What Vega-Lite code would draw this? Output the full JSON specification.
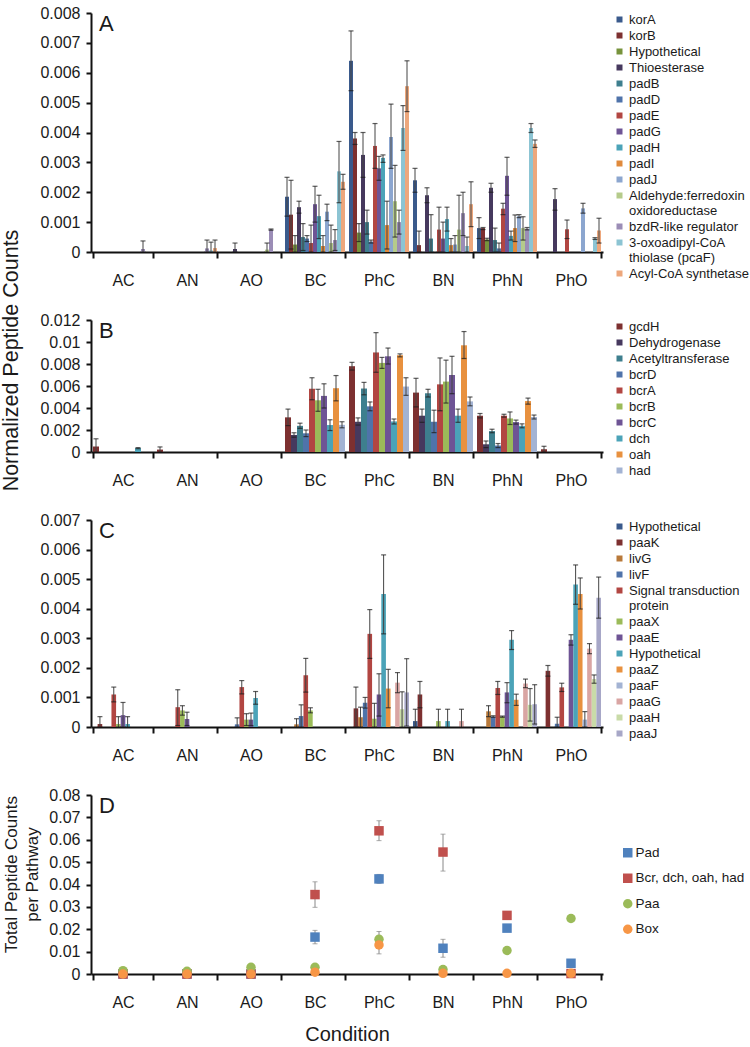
{
"$schema": "https://vega.github.io/schema/vega-lite/v6.json",
"padding": {"left": 0, "top": 5, "right": 2, "bottom": 2},
"autosize": {"type": "pad"},
"bounds": "flush",
"spacing": 68,
"datasets": {
"a": [
{"c":"AC","g":"bzdR-like regulator","v":0.0001,"lo":0,"hi":0.00037},
{"c":"AN","g":"bzdR-like regulator","v":0.00012,"lo":0,"hi":0.0004},
{"c":"AN","g":"3-oxoadipyl-CoA|thiolase (pcaF)","v":0.00005,"lo":0,"hi":0.00033},
{"c":"AN","g":"Acyl-CoA synthetase","v":0.00013,"lo":0,"hi":0.0004},
{"c":"AO","g":"Thioesterase","v":0.0001,"lo":0,"hi":0.0003},
{"c":"AO","g":"Aldehyde:ferredoxin| oxidoreductase","v":0.00008,"lo":0,"hi":0.0003},
{"c":"AO","g":"bzdR-like regulator","v":0.00075,"lo":0.00073,"hi":0.00077},
{"c":"BC","g":"korA","v":0.00185,"lo":0.0012,"hi":0.0025},
{"c":"BC","g":"korB","v":0.00125,"lo":0.0001,"hi":0.0024},
{"c":"BC","g":"Hypothetical","v":0.00025,"lo":0,"hi":0.00055},
{"c":"BC","g":"Thioesterase","v":0.0015,"lo":0.0013,"hi":0.0017},
{"c":"BC","g":"padB","v":0.0005,"lo":0.00005,"hi":0.00095},
{"c":"BC","g":"padD","v":0.00045,"lo":0.00035,"hi":0.00055},
{"c":"BC","g":"padE","v":0.0003,"lo":0,"hi":0.0009},
{"c":"BC","g":"padG","v":0.0016,"lo":0.001,"hi":0.0022},
{"c":"BC","g":"padH","v":0.0012,"lo":0.00045,"hi":0.0019},
{"c":"BC","g":"padI","v":0.0002,"lo":0,"hi":0.00055},
{"c":"BC","g":"padJ","v":0.00135,"lo":0.00105,"hi":0.0016},
{"c":"BC","g":"Aldehyde:ferredoxin| oxidoreductase","v":0.0003,"lo":0,"hi":0.0009},
{"c":"BC","g":"bzdR-like regulator","v":0.0004,"lo":0.00005,"hi":0.00075},
{"c":"BC","g":"3-oxoadipyl-CoA|thiolase (pcaF)","v":0.0027,"lo":0.00165,"hi":0.0037},
{"c":"BC","g":"Acyl-CoA synthetase","v":0.00235,"lo":0.0021,"hi":0.0026},
{"c":"PhC","g":"korA","v":0.0064,"lo":0.0054,"hi":0.0074},
{"c":"PhC","g":"korB","v":0.0038,"lo":0.0036,"hi":0.004},
{"c":"PhC","g":"Hypothetical","v":0.00065,"lo":0.00035,"hi":0.00095},
{"c":"PhC","g":"Thioesterase","v":0.00325,"lo":0.0025,"hi":0.004},
{"c":"PhC","g":"padB","v":0.001,"lo":0.0006,"hi":0.0014},
{"c":"PhC","g":"padD","v":0.00035,"lo":0.0003,"hi":0.0004},
{"c":"PhC","g":"padE","v":0.00355,"lo":0.0028,"hi":0.0043},
{"c":"PhC","g":"padG","v":0.0028,"lo":0.0024,"hi":0.0032},
{"c":"PhC","g":"padH","v":0.00315,"lo":0.003,"hi":0.00325},
{"c":"PhC","g":"padI","v":0.0009,"lo":0.0001,"hi":0.0017},
{"c":"PhC","g":"padJ","v":0.00385,"lo":0.0028,"hi":0.00495},
{"c":"PhC","g":"Aldehyde:ferredoxin| oxidoreductase","v":0.0017,"lo":0.0005,"hi":0.0029},
{"c":"PhC","g":"bzdR-like regulator","v":0.001,"lo":0.0006,"hi":0.0014},
{"c":"PhC","g":"3-oxoadipyl-CoA|thiolase (pcaF)","v":0.00415,"lo":0.0034,"hi":0.0049},
{"c":"PhC","g":"Acyl-CoA synthetase","v":0.00555,"lo":0.0047,"hi":0.0064},
{"c":"BN","g":"korA","v":0.0024,"lo":0.002,"hi":0.0028},
{"c":"BN","g":"korB","v":0.00023,"lo":0,"hi":0.0007},
{"c":"BN","g":"Thioesterase","v":0.0019,"lo":0.00165,"hi":0.00215},
{"c":"BN","g":"padB","v":0.00045,"lo":0,"hi":0.00125},
{"c":"BN","g":"padE","v":0.00075,"lo":0,"hi":0.0015},
{"c":"BN","g":"padG","v":0.00045,"lo":0,"hi":0.001},
{"c":"BN","g":"padH","v":0.0011,"lo":0.0007,"hi":0.0015},
{"c":"BN","g":"padI","v":0.00023,"lo":0,"hi":0.00045},
{"c":"BN","g":"padJ","v":0.00025,"lo":0,"hi":0.00055},
{"c":"BN","g":"Aldehyde:ferredoxin| oxidoreductase","v":0.00075,"lo":0,"hi":0.0019},
{"c":"BN","g":"bzdR-like regulator","v":0.0013,"lo":0.00055,"hi":0.002},
{"c":"BN","g":"3-oxoadipyl-CoA|thiolase (pcaF)","v":0.0002,"lo":0,"hi":0.0005},
{"c":"BN","g":"Acyl-CoA synthetase","v":0.0016,"lo":0.00085,"hi":0.00235},
{"c":"PhN","g":"korA","v":0.0008,"lo":0.00045,"hi":0.00115},
{"c":"PhN","g":"korB","v":0.0008,"lo":0.00075,"hi":0.00082},
{"c":"PhN","g":"Hypothetical","v":0.00042,"lo":0.00038,"hi":0.00046},
{"c":"PhN","g":"Thioesterase","v":0.00215,"lo":0.002,"hi":0.0023},
{"c":"PhN","g":"padB","v":0.0004,"lo":0,"hi":0.0008},
{"c":"PhN","g":"padD","v":0.00012,"lo":0,"hi":0.0003},
{"c":"PhN","g":"padE","v":0.00145,"lo":0.00125,"hi":0.00163},
{"c":"PhN","g":"padG","v":0.00255,"lo":0.0019,"hi":0.00317},
{"c":"PhN","g":"padH","v":0.00054,"lo":0.0004,"hi":0.0007},
{"c":"PhN","g":"padI","v":0.0008,"lo":0.00035,"hi":0.00124},
{"c":"PhN","g":"padJ","v":0.0012,"lo":0.00115,"hi":0.00125},
{"c":"PhN","g":"Aldehyde:ferredoxin| oxidoreductase","v":0.0008,"lo":0.0004,"hi":0.00118},
{"c":"PhN","g":"bzdR-like regulator","v":0.00078,"lo":0.00074,"hi":0.00082},
{"c":"PhN","g":"3-oxoadipyl-CoA|thiolase (pcaF)","v":0.00415,"lo":0.004,"hi":0.0043},
{"c":"PhN","g":"Acyl-CoA synthetase","v":0.00362,"lo":0.0035,"hi":0.00375},
{"c":"PhO","g":"Thioesterase","v":0.00177,"lo":0.0014,"hi":0.00212},
{"c":"PhO","g":"padE","v":0.00076,"lo":0.00045,"hi":0.00107},
{"c":"PhO","g":"padJ","v":0.00146,"lo":0.0013,"hi":0.00163},
{"c":"PhO","g":"3-oxoadipyl-CoA|thiolase (pcaF)","v":0.00045,"lo":0.00042,"hi":0.00048},
{"c":"PhO","g":"Acyl-CoA synthetase","v":0.00072,"lo":0.0003,"hi":0.00113}
],
"b": [
{"c":"AC","g":"gcdH","v":0.0005,"lo":0,"hi":0.0012},
{"c":"AC","g":"dch","v":0.00035,"lo":0.0003,"hi":0.0004},
{"c":"AN","g":"gcdH","v":0.00022,"lo":0,"hi":0.00046},
{"c":"BC","g":"gcdH","v":0.00315,"lo":0.0024,"hi":0.0039},
{"c":"BC","g":"Dehydrogenase","v":0.00155,"lo":0.00135,"hi":0.00175},
{"c":"BC","g":"Acetyltransferase","v":0.00238,"lo":0.00215,"hi":0.00262},
{"c":"BC","g":"bcrD","v":0.0017,"lo":0.0014,"hi":0.002},
{"c":"BC","g":"bcrA","v":0.00575,"lo":0.00475,"hi":0.00675},
{"c":"BC","g":"bcrB","v":0.0047,"lo":0.0037,"hi":0.0057},
{"c":"BC","g":"bcrC","v":0.0051,"lo":0.004,"hi":0.0062},
{"c":"BC","g":"dch","v":0.00245,"lo":0.00195,"hi":0.00293},
{"c":"BC","g":"oah","v":0.0058,"lo":0.00465,"hi":0.00695},
{"c":"BC","g":"had","v":0.00247,"lo":0.0022,"hi":0.00275},
{"c":"PhC","g":"gcdH","v":0.0078,"lo":0.00745,"hi":0.00815},
{"c":"PhC","g":"Dehydrogenase","v":0.00275,"lo":0.00245,"hi":0.0031},
{"c":"PhC","g":"Acetyltransferase","v":0.00577,"lo":0.0052,"hi":0.00633},
{"c":"PhC","g":"bcrD","v":0.00415,"lo":0.00375,"hi":0.00455},
{"c":"PhC","g":"bcrA","v":0.00905,"lo":0.00725,"hi":0.01085},
{"c":"PhC","g":"bcrB","v":0.0081,"lo":0.0076,"hi":0.0086},
{"c":"PhC","g":"bcrC","v":0.0087,"lo":0.008,"hi":0.00945},
{"c":"PhC","g":"dch","v":0.00278,"lo":0.00255,"hi":0.003},
{"c":"PhC","g":"oah","v":0.0088,"lo":0.00865,"hi":0.00892},
{"c":"PhC","g":"had","v":0.00595,"lo":0.00515,"hi":0.00675},
{"c":"BN","g":"gcdH","v":0.0054,"lo":0.0041,"hi":0.0067},
{"c":"BN","g":"Dehydrogenase","v":0.0033,"lo":0.0027,"hi":0.0039},
{"c":"BN","g":"Acetyltransferase","v":0.00534,"lo":0.005,"hi":0.0057},
{"c":"BN","g":"bcrD","v":0.00275,"lo":0.00176,"hi":0.0038},
{"c":"BN","g":"bcrA","v":0.00615,"lo":0.00375,"hi":0.00855},
{"c":"BN","g":"bcrB","v":0.0064,"lo":0.00445,"hi":0.00835},
{"c":"BN","g":"bcrC","v":0.007,"lo":0.0053,"hi":0.0087},
{"c":"BN","g":"dch","v":0.0033,"lo":0.0027,"hi":0.0039},
{"c":"BN","g":"oah","v":0.0097,"lo":0.0085,"hi":0.01095},
{"c":"BN","g":"had","v":0.0046,"lo":0.0042,"hi":0.005},
{"c":"PhN","g":"gcdH","v":0.0033,"lo":0.0031,"hi":0.0035},
{"c":"PhN","g":"Dehydrogenase","v":0.0007,"lo":0.0004,"hi":0.001},
{"c":"PhN","g":"Acetyltransferase","v":0.0019,"lo":0.00175,"hi":0.00207},
{"c":"PhN","g":"bcrD","v":0.00059,"lo":0.0004,"hi":0.00077},
{"c":"PhN","g":"bcrA","v":0.0033,"lo":0.00317,"hi":0.00343},
{"c":"PhN","g":"bcrB","v":0.00305,"lo":0.0025,"hi":0.00364},
{"c":"PhN","g":"bcrC","v":0.00272,"lo":0.00254,"hi":0.0029},
{"c":"PhN","g":"dch","v":0.00238,"lo":0.0022,"hi":0.00256},
{"c":"PhN","g":"oah","v":0.00463,"lo":0.00435,"hi":0.0049},
{"c":"PhN","g":"had","v":0.00318,"lo":0.003,"hi":0.00336},
{"c":"PhO","g":"gcdH","v":0.00025,"lo":0,"hi":0.00052}
],
"c": [
{"c":"AC","g":"paaK","v":0.0001,"lo":0,"hi":0.00035},
{"c":"AC","g":"Signal transduction|protein","v":0.0011,"lo":0.00085,"hi":0.00135},
{"c":"AC","g":"paaX","v":0.0001,"lo":0,"hi":0.00035},
{"c":"AC","g":"paaE","v":0.0004,"lo":0,"hi":0.00083},
{"c":"AC","g":"Hypothetical#2","v":0.0001,"lo":0,"hi":0.00035},
{"c":"AN","g":"Signal transduction|protein","v":0.00067,"lo":0.00005,"hi":0.00126},
{"c":"AN","g":"paaX","v":0.00056,"lo":0.0004,"hi":0.00072},
{"c":"AN","g":"paaE","v":0.00027,"lo":0.00005,"hi":0.0005},
{"c":"AO","g":"livF","v":0.00009,"lo":0,"hi":0.00031},
{"c":"AO","g":"Signal transduction|protein","v":0.00135,"lo":0.00112,"hi":0.00157},
{"c":"AO","g":"paaX","v":0.00025,"lo":0.00005,"hi":0.00045},
{"c":"AO","g":"paaE","v":0.00025,"lo":0.00005,"hi":0.00047},
{"c":"AO","g":"Hypothetical#2","v":0.00098,"lo":0.00077,"hi":0.0012},
{"c":"BC","g":"livG","v":0.00009,"lo":0,"hi":0.00028},
{"c":"BC","g":"livF","v":0.00037,"lo":0,"hi":0.00075},
{"c":"BC","g":"Signal transduction|protein","v":0.00175,"lo":0.00118,"hi":0.00232},
{"c":"BC","g":"paaX","v":0.00056,"lo":0.00048,"hi":0.00065},
{"c":"PhC","g":"paaK","v":0.00063,"lo":0,"hi":0.00135},
{"c":"PhC","g":"livG","v":0.00033,"lo":0,"hi":0.00067},
{"c":"PhC","g":"livF","v":0.00082,"lo":0.00064,"hi":0.001},
{"c":"PhC","g":"Signal transduction|protein","v":0.00315,"lo":0.00232,"hi":0.00397},
{"c":"PhC","g":"paaX","v":0.00028,"lo":0,"hi":0.0008},
{"c":"PhC","g":"paaE","v":0.0011,"lo":0.00037,"hi":0.0018},
{"c":"PhC","g":"Hypothetical#2","v":0.0045,"lo":0.00315,"hi":0.00582},
{"c":"PhC","g":"paaZ","v":0.0013,"lo":0.00065,"hi":0.00195},
{"c":"PhC","g":"paaG","v":0.0015,"lo":0.00116,"hi":0.00184},
{"c":"PhC","g":"paaH","v":0.0006,"lo":0,"hi":0.00119},
{"c":"PhC","g":"paaJ","v":0.00117,"lo":0.00003,"hi":0.00231},
{"c":"BN","g":"Hypothetical","v":0.0002,"lo":0,"hi":0.0006},
{"c":"BN","g":"paaK","v":0.0011,"lo":0.00065,"hi":0.00154},
{"c":"BN","g":"paaX","v":0.0002,"lo":0,"hi":0.0006},
{"c":"BN","g":"Hypothetical#2","v":0.0002,"lo":0,"hi":0.0006},
{"c":"BN","g":"paaG","v":0.0002,"lo":0,"hi":0.0006},
{"c":"PhN","g":"livG","v":0.00053,"lo":0.00035,"hi":0.00072},
{"c":"PhN","g":"livF","v":0.00035,"lo":0.00033,"hi":0.00038},
{"c":"PhN","g":"Signal transduction|protein","v":0.00132,"lo":0.0011,"hi":0.00154},
{"c":"PhN","g":"paaX","v":0.00035,"lo":0.00033,"hi":0.00037},
{"c":"PhN","g":"paaE","v":0.00117,"lo":0.00082,"hi":0.0015},
{"c":"PhN","g":"Hypothetical#2","v":0.00295,"lo":0.00262,"hi":0.00326},
{"c":"PhN","g":"paaZ","v":0.00092,"lo":0.00073,"hi":0.00111},
{"c":"PhN","g":"paaG","v":0.00147,"lo":0.00133,"hi":0.00162},
{"c":"PhN","g":"paaH","v":0.00075,"lo":0.0002,"hi":0.0013},
{"c":"PhN","g":"paaJ","v":0.00077,"lo":0.0001,"hi":0.00143},
{"c":"PhO","g":"paaK","v":0.0019,"lo":0.00172,"hi":0.00208},
{"c":"PhO","g":"livF","v":0.00011,"lo":0,"hi":0.00033},
{"c":"PhO","g":"Signal transduction|protein","v":0.00134,"lo":0.0012,"hi":0.00148},
{"c":"PhO","g":"paaE","v":0.00295,"lo":0.00277,"hi":0.00312},
{"c":"PhO","g":"Hypothetical#2","v":0.00482,"lo":0.00415,"hi":0.00548},
{"c":"PhO","g":"paaZ","v":0.0045,"lo":0.00399,"hi":0.00504},
{"c":"PhO","g":"paaF","v":0.00025,"lo":0,"hi":0.00052},
{"c":"PhO","g":"paaG","v":0.00265,"lo":0.00248,"hi":0.00282},
{"c":"PhO","g":"paaH","v":0.00162,"lo":0.00148,"hi":0.00176},
{"c":"PhO","g":"paaJ","v":0.00437,"lo":0.00368,"hi":0.00507}
],
"d": [
{"c":"AC","s":"Pad","v":0},
{"c":"AN","s":"Pad","v":0},
{"c":"AO","s":"Pad","v":0},
{"c":"BC","s":"Pad","v":0.0165,"lo":0.0135,"hi":0.0195},
{"c":"PhC","s":"Pad","v":0.0425,"lo":0.0405,"hi":0.0445},
{"c":"BN","s":"Pad","v":0.0115,"lo":0.0075,"hi":0.0155},
{"c":"PhN","s":"Pad","v":0.0205},
{"c":"PhO","s":"Pad","v":0.0048},
{"c":"AC","s":"Bcr, dch, oah, had","v":0},
{"c":"AN","s":"Bcr, dch, oah, had","v":0},
{"c":"AO","s":"Bcr, dch, oah, had","v":0},
{"c":"BC","s":"Bcr, dch, oah, had","v":0.0355,"lo":0.0298,"hi":0.0412},
{"c":"PhC","s":"Bcr, dch, oah, had","v":0.064,"lo":0.0596,"hi":0.0685},
{"c":"BN","s":"Bcr, dch, oah, had","v":0.0545,"lo":0.046,"hi":0.0625},
{"c":"PhN","s":"Bcr, dch, oah, had","v":0.0262},
{"c":"PhO","s":"Bcr, dch, oah, had","v":0.0002},
{"c":"AC","s":"Paa","v":0.0015},
{"c":"AN","s":"Paa","v":0.0012},
{"c":"AO","s":"Paa","v":0.003},
{"c":"BC","s":"Paa","v":0.003},
{"c":"PhC","s":"Paa","v":0.0155,"lo":0.012,"hi":0.019},
{"c":"BN","s":"Paa","v":0.002},
{"c":"PhN","s":"Paa","v":0.0105},
{"c":"PhO","s":"Paa","v":0.0248},
{"c":"AC","s":"Box","v":0},
{"c":"AN","s":"Box","v":0},
{"c":"AO","s":"Box","v":0},
{"c":"BC","s":"Box","v":0.0008},
{"c":"PhC","s":"Box","v":0.013,"lo":0.009,"hi":0.017},
{"c":"BN","s":"Box","v":0.0003},
{"c":"PhN","s":"Box","v":0.0003},
{"c":"PhO","s":"Box","v":0.0003}
]
},
"vconcat": [
{
"width": 512, "height": 239,
"title": {"text": "A"},
"data": {"name": "a"},
"encoding": {
"x": {"field": "c", "type": "nominal", "scale": {"domain": ["AC","AN","AO","BC","PhC","BN","PhN","PhO"], "paddingInner": 0.0625, "paddingOuter": 0.03125}, "axis": {"title": null}},
"xOffset": {"field": "g", "type": "nominal", "scale": {"domain": ["korA","korB","Hypothetical","Thioesterase","padB","padD","padE","padG","padH","padI","padJ","Aldehyde:ferredoxin| oxidoreductase","bzdR-like regulator","3-oxoadipyl-CoA|thiolase (pcaF)","Acyl-CoA synthetase"], "paddingInner": 0, "paddingOuter": 0}}
},
"layer": [
{"mark": {"type": "bar"},
 "encoding": {
  "y": {"field": "v", "type": "quantitative", "scale": {"domain": [0, 0.008], "nice": false}, "axis": {"title": "Normalized Peptide Counts", "titleFontSize": 21.5, "titleX": -74, "titleY": 347, "titleBaseline": "alphabetic", "labelOverlap": false, "tickCount": 50, "values": [0,0.001,0.002,0.003,0.004,0.005,0.006,0.007,0.008], "format": "~g"}},
  "color": {"field": "g", "type": "nominal", "scale": {"domain": ["korA","korB","Hypothetical","Thioesterase","padB","padD","padE","padG","padH","padI","padJ","Aldehyde:ferredoxin| oxidoreductase","bzdR-like regulator","3-oxoadipyl-CoA|thiolase (pcaF)","Acyl-CoA synthetase"], "range": ["#3A5A8C","#7D3030","#77933C","#46395E","#3E7F8E","#4F73AA","#B24642","#6E5495","#4BA3B8","#E08A3C","#8CA6CF","#B5CB8B","#9B8DB6","#8CC4D3","#EDA77C"]}, "legend": {"title": null, "labelExpr": "split(datum.label, '|')"}}
 }},
{"mark": {"type": "rule", "color": "#444", "strokeWidth": 1}, "encoding": {"y": {"field": "lo", "type": "quantitative"}, "y2": {"field": "hi"}}},
{"mark": {"type": "tick", "color": "#1a1a1a", "thickness": 1.2, "size": 5, "orient": "horizontal"}, "encoding": {"y": {"field": "hi", "type": "quantitative"}}},
{"mark": {"type": "tick", "color": "#1a1a1a", "thickness": 1.2, "size": 5, "orient": "horizontal"}, "encoding": {"y": {"field": "lo", "type": "quantitative"}}}
]
},
{
"width": 512, "height": 132,
"title": {"text": "B"},
"data": {"name": "b"},
"encoding": {
"x": {"field": "c", "type": "nominal", "scale": {"domain": ["AC","AN","AO","BC","PhC","BN","PhN","PhO"], "paddingInner": 0.0625, "paddingOuter": 0.03125}, "axis": {"title": null}},
"xOffset": {"field": "g", "type": "nominal", "scale": {"domain": ["gcdH","Dehydrogenase","Acetyltransferase","bcrD","bcrA","bcrB","bcrC","dch","oah","had"], "paddingInner": 0, "paddingOuter": 0}}
},
"layer": [
{"mark": {"type": "bar"},
 "encoding": {
  "y": {"field": "v", "type": "quantitative", "scale": {"domain": [0, 0.012], "nice": false}, "axis": {"title": null, "labelOverlap": false, "tickCount": 50, "values": [0,0.002,0.004,0.006,0.008,0.01,0.012], "format": "~g"}},
  "color": {"field": "g", "type": "nominal", "scale": {"domain": ["gcdH","Dehydrogenase","Acetyltransferase","bcrD","bcrA","bcrB","bcrC","dch","oah","had"], "range": ["#7D3030","#46395E","#3E7F8E","#4F73AA","#B24642","#9BBB59","#6E5495","#4BA3B8","#E8913F","#A3B3D3"]}, "legend": {"title": null}}
 }},
{"mark": {"type": "rule", "color": "#444", "strokeWidth": 1}, "encoding": {"y": {"field": "lo", "type": "quantitative"}, "y2": {"field": "hi"}}},
{"mark": {"type": "tick", "color": "#1a1a1a", "thickness": 1.2, "size": 5, "orient": "horizontal"}, "encoding": {"y": {"field": "hi", "type": "quantitative"}}},
{"mark": {"type": "tick", "color": "#1a1a1a", "thickness": 1.2, "size": 5, "orient": "horizontal"}, "encoding": {"y": {"field": "lo", "type": "quantitative"}}}
]
},
{
"width": 512, "height": 207,
"title": {"text": "C"},
"data": {"name": "c"},
"encoding": {
"x": {"field": "c", "type": "nominal", "scale": {"domain": ["AC","AN","AO","BC","PhC","BN","PhN","PhO"], "paddingInner": 0.0625, "paddingOuter": 0.03125}, "axis": {"title": null}},
"xOffset": {"field": "g", "type": "nominal", "scale": {"domain": ["Hypothetical","paaK","livG","livF","Signal transduction|protein","paaX","paaE","Hypothetical#2","paaZ","paaF","paaG","paaH","paaJ"], "paddingInner": 0, "paddingOuter": 0}}
},
"layer": [
{"mark": {"type": "bar"},
 "encoding": {
  "y": {"field": "v", "type": "quantitative", "scale": {"domain": [0, 0.007], "nice": false}, "axis": {"title": null, "labelOverlap": false, "tickCount": 50, "values": [0,0.001,0.002,0.003,0.004,0.005,0.006,0.007], "format": "~g"}},
  "color": {"field": "g", "type": "nominal", "scale": {"domain": ["Hypothetical","paaK","livG","livF","Signal transduction|protein","paaX","paaE","Hypothetical#2","paaZ","paaF","paaG","paaH","paaJ"], "range": ["#3A5A8C","#7D3030","#B8793A","#4F73AA","#B24642","#9BBB59","#6E5495","#4BA3B8","#E8913F","#A3B3D3","#D9A5A3","#C9DBA8","#A7A7C7"]}, "legend": {"title": null, "labelExpr": "split(replace(datum.label, '#2', ''), '|')"}}
 }},
{"mark": {"type": "rule", "color": "#444", "strokeWidth": 1}, "encoding": {"y": {"field": "lo", "type": "quantitative"}, "y2": {"field": "hi"}}},
{"mark": {"type": "tick", "color": "#1a1a1a", "thickness": 1.2, "size": 5, "orient": "horizontal"}, "encoding": {"y": {"field": "hi", "type": "quantitative"}}},
{"mark": {"type": "tick", "color": "#1a1a1a", "thickness": 1.2, "size": 5, "orient": "horizontal"}, "encoding": {"y": {"field": "lo", "type": "quantitative"}}}
]
},
{
"width": 512, "height": 179,
"title": {"text": "D"},
"data": {"name": "d"},
"encoding": {
"x": {"field": "c", "type": "nominal", "scale": {"domain": ["AC","AN","AO","BC","PhC","BN","PhN","PhO"], "paddingInner": 0.0625, "paddingOuter": 0.03125}, "axis": {"title": "Condition", "titleFontSize": 20, "titlePadding": 14}}
},
"layer": [
{"mark": {"type": "rule", "color": "#888", "strokeWidth": 1}, "encoding": {"y": {"field": "lo", "type": "quantitative", "scale": {"domain": [0, 0.08], "nice": false}, "axis": {"title": ["Total Peptide Counts", "per Pathway"], "titleFontSize": 17, "titleLineHeight": 21, "titleX": -75, "titleY": 79, "titleBaseline": "alphabetic", "labelOverlap": false, "tickCount": 50, "values": [0,0.01,0.02,0.03,0.04,0.05,0.06,0.07,0.08], "format": "~g"}}, "y2": {"field": "hi"}}},
{"mark": {"type": "tick", "color": "#888", "thickness": 1, "size": 5, "orient": "horizontal"}, "encoding": {"y": {"field": "hi", "type": "quantitative"}}},
{"mark": {"type": "tick", "color": "#888", "thickness": 1, "size": 5, "orient": "horizontal"}, "encoding": {"y": {"field": "lo", "type": "quantitative"}}},
{"mark": {"type": "point", "filled": true, "opacity": 1, "size": 90},
 "encoding": {
  "y": {"field": "v", "type": "quantitative"},
  "color": {"field": "s", "type": "nominal", "scale": {"domain": ["Pad","Bcr, dch, oah, had","Paa","Box"], "range": ["#4F81BD","#C0504D","#9BBB59","#F79646"]}, "legend": {"title": null, "orient": "none", "legendX": 530, "legendY": 51, "labelFontSize": 13.5, "symbolSize": 90, "rowPadding": 10.5, "labelOffset": 1}},
  "shape": {"field": "s", "type": "nominal", "scale": {"domain": ["Pad","Bcr, dch, oah, had","Paa","Box"], "range": ["square","square","circle","circle"]}, "legend": {"title": null, "orient": "none", "legendX": 530, "legendY": 51, "labelFontSize": 13.5, "symbolSize": 90, "rowPadding": 10.5, "labelOffset": 1}}
 }}
]
}
],
"resolve": {"scale": {"color": "independent", "shape": "independent", "xOffset": "independent", "y": "independent", "x": "independent"}, "legend": {"color": "independent", "shape": "independent"}},
"config": {
"font": "Liberation Sans",
"view": {"stroke": null},
"title": {"anchor": "start", "frame": "group", "fontSize": 22, "fontWeight": "normal", "font": "Liberation Sans", "color": "#1a1a1a", "baseline": "top", "offset": -31, "dx": 8},
"axis": {"grid": false, "domainColor": "#111", "domainWidth": 2, "tickColor": "#111", "tickWidth": 2, "labelColor": "#1a1a1a", "labelFont": "Liberation Sans", "labelFontSize": 16, "labelOverlap": false, "titleFont": "Liberation Sans", "titleFontWeight": "normal", "titleColor": "#1a1a1a"},
"axisX": {"tickBand": "extent", "tickSize": 6, "labelPadding": 14, "labelAngle": 0},
"axisY": {"tickSize": 5, "labelPadding": 6},
"legend": {"labelFont": "Liberation Sans", "labelFontSize": 13, "labelColor": "#1a1a1a", "symbolType": "square", "symbolSize": 36, "symbolStrokeWidth": 0, "labelOffset": 3, "rowPadding": 2, "offset": 10, "padding": 0}
}
}
